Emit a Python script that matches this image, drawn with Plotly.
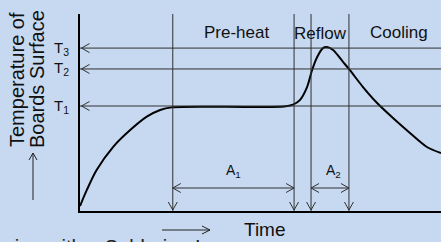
import plotly.graph_objects as go

# ---- data (arbitrary units: time 0-100, temperature 0-100) ----
time_pts = [0, 1.9, 4.6, 9.2, 13.9, 18.5, 22.2, 25.4, 40.0, 56.5, 59.0, 60.9, 62.9,
            64.3, 65.7, 67.3, 68.4, 70.1, 72.9, 74.5, 78.4, 82.3, 86.7, 91.4, 96.1, 100]
temp_pts = [2.5, 10.7, 20.8, 32.6, 41.1, 47.9, 51.3, 52.6, 52.9, 53.0, 54.0, 56.3, 62.9,
            71.6, 78.2, 82.7, 83.2, 81.7, 75.6, 72.1, 62.9, 54.8, 47.2, 39.6, 32.5, 29.4]

t_levels = [53.3, 72.1, 82.7]          # T1, T2, T3
t_labels = ["T<sub>1</sub>", "T<sub>2</sub>", "T<sub>3</sub>"]
time_marks = [25.7, 59.3, 64.0, 74.5]  # preheat start, preheat end, reflow start, cooling start
zone_labels = ["Pre-heat", "Reflow", "Cooling"]
span_labels = ["A<sub>1</sub>", "A<sub>2</sub>"]

# ---- layout geometry ----
W, H = 441, 242
ML, MR, MT, MB = 80, 0, 14, 31
PW, PH = W - ML - MR, H - MT - MB
XR, YR = [0, 100], [0, 100]
sx = PW / (XR[1] - XR[0])   # px per x unit
sy = PH / (YR[1] - YR[0])   # px per y unit

BG = "#C6D9F1"
LINE = "#303030"
FONT = "Liberation Sans, Arial, sans-serif"

def px_x(px):  # pixel -> paper x
    return (px - ML) / PW

def px_y(py):  # pixel -> paper y
    return (H - MB - py) / PH

shapes = []

def seg(x0, y0, x1, y1, ref="data", color=LINE, width=1):
    r = ("x", "y") if ref == "data" else ("paper", "paper")
    shapes.append(dict(type="line", xref=r[0], yref=r[1], x0=x0, y0=y0, x1=x1, y1=y1,
                       line=dict(color=color, width=width)))

AL, AW = 8, 4.5  # chevron arm length / half width in px

# horizontal temperature levels with '<' at left
for ty in t_levels:
    seg(XR[0], ty, XR[1], ty)
    tipx = XR[0] + 1.5 / sx
    seg(tipx, ty, tipx + AL / sx, ty + AW / sy)
    seg(tipx, ty, tipx + AL / sx, ty - AW / sy)

# vertical time markers with 'v' at bottom
for tx in time_marks:
    seg(tx, YR[0], tx, YR[1])
    tipy = YR[0] + 1 / sy
    seg(tx, tipy, tx - AW / sx, tipy + AL / sy)
    seg(tx, tipy, tx + AW / sx, tipy + AL / sy)

# double arrows A1, A2
span_y = (H - MB - 188) / sy
spans = [(time_marks[0], time_marks[1]), (time_marks[2], time_marks[3])]
for a, b in spans:
    seg(a, span_y, b, span_y)
    seg(a, span_y, a + AL / sx, span_y + AW / sy)
    seg(a, span_y, a + AL / sx, span_y - AW / sy)
    seg(b, span_y, b - AL / sx, span_y + AW / sy)
    seg(b, span_y, b - AL / sx, span_y - AW / sy)

# up arrow beside y title
ux = px_x(33)
seg(ux, px_y(200), ux, px_y(153), ref="paper", color="#222")
seg(ux, px_y(153), px_x(33 - 4), px_y(160), ref="paper", color="#222")
seg(ux, px_y(153), px_x(33 + 4), px_y(160), ref="paper", color="#222")

# right arrow near x title
ay = px_y(230)
seg(px_x(162), ay, px_x(210), ay, ref="paper", color="#222")
seg(px_x(210), ay, px_x(202), px_y(226), ref="paper", color="#222")
seg(px_x(210), ay, px_x(202), px_y(234), ref="paper", color="#222")

fig = go.Figure()
fig.add_trace(go.Scatter(x=time_pts, y=temp_pts, mode="lines",
                         line=dict(color="black", width=2, shape="spline", smoothing=0.8),
                         hoverinfo="skip", showlegend=False))

annotations = []
def ann(text, x, y, size, xref="paper", yref="paper", xanchor="center", yanchor="middle",
        angle=0, color="#111"):
    annotations.append(dict(text=text, x=x, y=y, xref=xref, yref=yref, xanchor=xanchor,
                            yanchor=yanchor, textangle=angle, showarrow=False,
                            font=dict(family=FONT, size=size, color=color)))

# T labels
for ty, lab in zip(t_levels, t_labels):
    ann(lab, px_x(71), ty, 15, yref="y", xanchor="right")

# zone labels
zone_x = [px_x(236), px_x(320), px_x(399)]
zone_y = [px_y(32), px_y(34), px_y(32)]
for lab, zx, zy in zip(zone_labels, zone_x, zone_y):
    ann(lab, zx, zy, 17)

# span labels
for lab, (a, b), off in zip(span_labels, spans, [0, 1]):
    ann(lab, (a + b) / 2 + off, (H - MB - 171) / sy, 14, xref="x", yref="y")

# axis titles
ann("Temperature of", px_x(17), px_y(80), 20, angle=-90)
ann("Boards Surface", px_x(37), px_y(79), 20, angle=-90)
ann("Time", px_x(265), px_y(229), 19)

# cut caption at the bottom
ann("Soldering with a Soldering Iron", px_x(231), px_y(234), 20, xanchor="right",
    yanchor="top", color="#222")

fig.update_layout(
    width=W, height=H,
    margin=dict(l=ML, r=MR, t=MT, b=MB, pad=0),
    paper_bgcolor=BG, plot_bgcolor=BG,
    shapes=shapes, annotations=annotations,
    showlegend=False,
    xaxis=dict(range=XR, showgrid=False, zeroline=False, showticklabels=False, ticks="",
               showline=True, linecolor="black", linewidth=2, fixedrange=True),
    yaxis=dict(range=YR, showgrid=False, zeroline=False, showticklabels=False, ticks="",
               showline=True, linecolor="black", linewidth=1.5, fixedrange=True),
)

fig.write_html("out.html", config={"displayModeBar": False},
               post_script="document.body.style.margin='0';document.body.style.overflow='hidden';")
